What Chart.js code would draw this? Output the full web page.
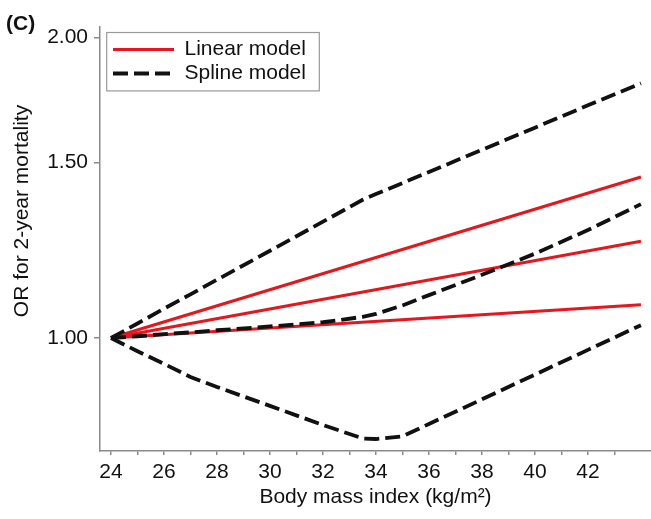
<!DOCTYPE html>
<html>
<head>
<meta charset="utf-8">
<script src="https://cdn.jsdelivr.net/npm/chart.js@4.4.0/dist/chart.umd.min.js"></script>
<style>
  html, body { margin: 0; padding: 0; background: #fff; }
</style>
</head>
<body>
<canvas id="grafico" width="651" height="519"></canvas>
<script>
const bmiSpline = [24, 25, 26, 27, 28, 30, 32, 33.5, 34, 35, 36, 38, 40, 42, 44];
const splineUpper = [1.000, 1.034, 1.070, 1.106, 1.144, 1.223, 1.308, 1.376, 1.394, 1.430, 1.467, 1.544, 1.625, 1.711, 1.800];
const splineEst   = [1.000, 1.004, 1.009, 1.013, 1.018, 1.027, 1.037, 1.050, 1.057, 1.078, 1.104, 1.157, 1.215, 1.283, 1.362];
const splineLower = [1.000, 0.970, 0.942, 0.914, 0.893, 0.855, 0.818, 0.793, 0.792, 0.797, 0.820, 0.868, 0.919, 0.973, 1.030];

// linear model: straight on the log axis
const bmiLinear = [24, 44];
const linearUpper = [1.00, 1.45];
const linearEst   = [1.00, 1.25];
const linearLower = [1.00, 1.08];

const xTicks = [24, 25, 26, 27, 28, 29, 30, 31, 32, 33, 34, 35, 36, 37, 38, 39, 40, 41, 42, 43];
const yTicks = [1.00, 1.50, 2.00];

const fuente = '"Liberation Sans", Arial, sans-serif';
const rojo = '#e5171c';
const negro = '#111111';
const gris = '#8a8a8a';
const guiones = [15, 6];

function serie(xs, ys) {
    return xs.map((x, i) => ({ x: x, y: ys[i] }));
}

const linea = (label, xs, ys, color, dash, ancho) => ({
    label: label,
    data: serie(xs, ys),
    borderColor: color,
    backgroundColor: color,
    borderWidth: ancho,
    borderDash: dash,
    pointRadius: 0,
    tension: 0,
    fill: false
});

// "(C)", y-axis title, legend position and frame
const textos = {
    id: 'textos',
    afterLayout(chart) {
        const lg = chart.legend;
        lg.left = chart.chartArea.left + 10;
        lg.top = chart.chartArea.top + 9;
    },
    afterDraw(chart) {
        const ctx = chart.ctx;
        const lg = chart.legend;
        ctx.save();
        ctx.strokeStyle = '#9a9a9a';
        ctx.lineWidth = 1.2;
        ctx.strokeRect(lg.left - 3.3, lg.top - 3.5, 212.6, 58.4);

        ctx.fillStyle = negro;
        ctx.font = 'bold 21px ' + fuente;
        ctx.textBaseline = 'alphabetic';
        ctx.fillText('(C)', 6, 30);

        ctx.font = '21px ' + fuente;
        ctx.translate(22, 211);
        ctx.rotate(-Math.PI / 2);
        ctx.textAlign = 'center';
        ctx.textBaseline = 'middle';
        ctx.fillText('OR for 2-year mortality', 0, 0);
        ctx.restore();
    }
};

const ctx = document.getElementById('grafico');

new Chart(ctx, {
    type: 'line',
    data: {
        datasets: [
            linea('Spline model', bmiSpline, splineEst, negro, guiones, 3.8),
            linea('Spline upper', bmiSpline, splineUpper, negro, guiones, 3.8),
            linea('Spline lower', bmiSpline, splineLower, negro, guiones, 3.8),
            linea('Linear model', bmiLinear, linearEst, rojo, [], 3),
            linea('Linear upper', bmiLinear, linearUpper, rojo, [], 3),
            linea('Linear lower', bmiLinear, linearLower, rojo, [], 3)
        ]
    },
    options: {
        responsive: false,
        animation: false,
        devicePixelRatio: 1,
        layout: { padding: { top: 27, left: 0, right: 0, bottom: 0 } },
        plugins: {
            tooltip: { enabled: false },
            legend: {
                position: 'chartArea',
                align: 'start',
                labels: {
                    generateLabels: (chart) =>
                        Chart.defaults.plugins.legend.labels.generateLabels(chart).map((item) => {
                            const ds = chart.data.datasets[item.datasetIndex];
                            item.lineDash = ds.borderDash;
                            item.lineWidth = ds.borderWidth;
                            item.lineCap = 'butt';
                            return item;
                        }),
                    filter: (item) => item.datasetIndex === 0 || item.datasetIndex === 3,
                    sort: (a, b) => b.datasetIndex - a.datasetIndex,
                    usePointStyle: true,
                    pointStyle: 'line',
                    pointStyleWidth: 61,
                    padding: 3,
                    color: negro,
                    font: { family: fuente, size: 21 }
                }
            }
        },
        scales: {
            x: {
                type: 'linear',
                min: 23.585,
                max: 44.38,
                afterBuildTicks: (s) => { s.ticks = xTicks.map(v => ({ value: v })); },
                afterFit: (s) => { s.height = 68; },
                ticks: {
                    autoSkip: false,
                    maxRotation: 0,
                    padding: 5,
                    color: negro,
                    font: { family: fuente, size: 21 },
                    callback: (v) => (v % 2 === 0 ? String(v) : '')
                },
                grid: { drawOnChartArea: false, drawTicks: true, tickLength: 4, color: gris, lineWidth: 1.5 },
                border: { display: true, color: gris, width: 1.5 },
                title: {
                    display: true,
                    text: 'Body mass index (kg/m²)',
                    color: negro,
                    font: { family: fuente, size: 21 },
                    padding: { top: 0, bottom: 9 }
                }
            },
            y: {
                type: 'logarithmic',
                min: 0.7704,
                max: 2.05,
                afterBuildTicks: (s) => { s.ticks = yTicks.map(v => ({ value: v })); },
                afterFit: (s) => { s.width = 100; },
                ticks: {
                    autoSkip: false,
                    padding: 6,
                    color: negro,
                    font: { family: fuente, size: 21 },
                    callback: (v) => Number(v).toFixed(2)
                },
                grid: { drawOnChartArea: false, drawTicks: true, tickLength: 6, color: gris, lineWidth: 1.5 },
                border: { display: true, color: gris, width: 1.5 }
            }
        }
    },
    plugins: [textos]
});
</script>
</body>
</html>
